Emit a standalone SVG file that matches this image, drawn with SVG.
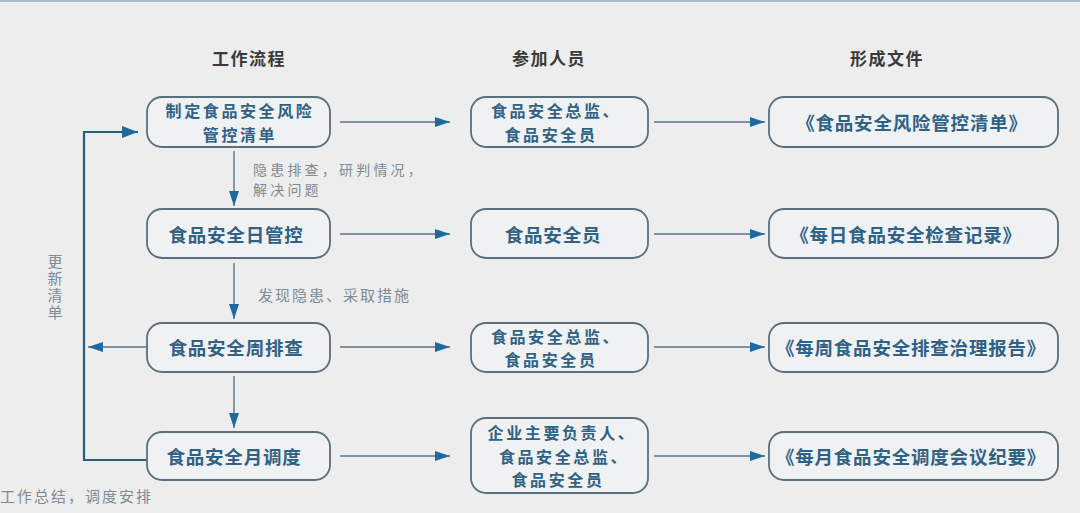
<svg xmlns="http://www.w3.org/2000/svg" width="1080" height="513" viewBox="0 0 1080 513">
<style>
.bg{fill:#ededed}
.box{fill:#eff1f2;stroke:#5a6f7c;stroke-width:1.8}
.t{font-family:"Noto Sans CJK SC","Noto Sans",sans-serif;font-size:18.5px;font-weight:bold;fill:#2f6284;text-anchor:middle;dominant-baseline:central;letter-spacing:0.8px}
.m{font-family:"Noto Sans CJK SC","Noto Sans",sans-serif;font-size:16px;font-weight:bold;fill:#2f6284;text-anchor:middle;dominant-baseline:central;letter-spacing:2.6px}
.h{font-family:"Noto Sans CJK SC","Noto Sans",sans-serif;font-size:17px;font-weight:bold;fill:#3a3a3a;text-anchor:middle;dominant-baseline:central;letter-spacing:1.5px}
.n{font-family:"Noto Sans CJK SC","Noto Sans",sans-serif;font-size:15px;fill:#7f8b93;dominant-baseline:central;letter-spacing:2px}
.ns{font-family:"Noto Sans CJK SC","Noto Sans",sans-serif;font-size:14px;fill:#7f8b93;dominant-baseline:central;letter-spacing:3.2px}
.ln{stroke:#5a7383;stroke-width:1.4;fill:none}
.fb{stroke:#2a5e78;stroke-width:2.2;fill:none}
</style>
<defs>
<marker id="ah" markerWidth="15" markerHeight="10" refX="15" refY="5" orient="auto" markerUnits="userSpaceOnUse">
<path d="M0,0 L15,5 L0,10 Z" fill="#1e6aa0"/>
</marker>
<marker id="ahb" markerWidth="16" markerHeight="12" refX="16" refY="6" orient="auto" markerUnits="userSpaceOnUse">
<path d="M0,0 L16,6 L0,12 Z" fill="#1e6aa0"/>
</marker>
</defs>
<rect class="bg" x="0" y="0" width="1080" height="513"/>
<rect x="0" y="0" width="1080" height="2" fill="#a9bdcc"/>

<g id="headers">
<text class="h" x="249" y="57">工作流程</text>
<text class="h" x="549" y="57">参加人员</text>
<text class="h" x="887" y="57">形成文件</text>
</g>

<g id="connectors">
<line class="ln" x1="340" y1="122" x2="450" y2="122" marker-end="url(#ah)"/>
<line class="ln" x1="340" y1="234" x2="450" y2="234" marker-end="url(#ah)"/>
<line class="ln" x1="340" y1="347" x2="450" y2="347" marker-end="url(#ah)"/>
<line class="ln" x1="340" y1="456" x2="450" y2="456" marker-end="url(#ah)"/>
<line class="ln" x1="654" y1="122" x2="765" y2="122" marker-end="url(#ah)"/>
<line class="ln" x1="654" y1="234" x2="765" y2="234" marker-end="url(#ah)"/>
<line class="ln" x1="654" y1="347" x2="765" y2="347" marker-end="url(#ah)"/>
<line class="ln" x1="654" y1="456" x2="765" y2="456" marker-end="url(#ah)"/>
<line class="ln" x1="234" y1="151" x2="234" y2="206" marker-end="url(#ah)"/>
<line class="ln" x1="234" y1="263" x2="234" y2="319" marker-end="url(#ah)"/>
<line class="ln" x1="234" y1="376" x2="234" y2="428" marker-end="url(#ah)"/>
<line class="ln" x1="146" y1="347" x2="88" y2="347" marker-end="url(#ah)"/>
<polyline class="fb" points="147,460 84,460 84,132 138,132" marker-end="url(#ahb)"/>
</g>

<g id="annotations">
<text class="ns"><tspan x="253" y="168.5">隐患排查，研判情况，</tspan><tspan x="253" y="189">解决问题</tspan></text>
<text class="n" x="258" y="294">发现隐患、采取措施</text>
<text class="n" x="0" y="495">工作总结，调度安排</text>
<text class="n" x="55" y="254" style="writing-mode:vertical-rl;text-orientation:upright;letter-spacing:2px;dominant-baseline:auto;text-anchor:start">更新清单</text>
</g>

<g id="n1"><rect class="box" x="147" y="97" width="183" height="50" rx="15"/>
<text class="m"><tspan x="240" y="110.3">制定食品安全风险</tspan><tspan x="240" y="133.8">管控清单</tspan></text></g>
<g id="n2"><rect class="box" x="147" y="209" width="183" height="49" rx="15"/>
<text class="t" x="236" y="234">食品安全日管控</text></g>
<g id="n3"><rect class="box" x="147" y="323" width="183" height="49" rx="15"/>
<text class="t" x="236" y="347">食品安全周排查</text></g>
<g id="n4"><rect class="box" x="147" y="432" width="183" height="48" rx="15"/>
<text class="t" x="234" y="456">食品安全月调度</text></g>

<g id="p1"><rect class="box" x="471" y="97" width="177" height="50" rx="15"/>
<text class="m"><tspan x="556" y="110.3">食品安全总监、</tspan><tspan x="551" y="133.8">食品安全员</tspan></text></g>
<g id="p2"><rect class="box" x="471" y="209" width="177" height="49" rx="15"/>
<text class="t" x="553" y="234">食品安全员</text></g>
<g id="p3"><rect class="box" x="471" y="323" width="177" height="49" rx="15"/>
<text class="m"><tspan x="556" y="335.5">食品安全总监、</tspan><tspan x="551" y="359">食品安全员</tspan></text></g>
<g id="p4"><rect class="box" x="471" y="418" width="177" height="75" rx="15"/>
<text class="m"><tspan x="562" y="432">企业主要负责人、</tspan><tspan x="564" y="455.5">食品安全总监、</tspan><tspan x="558" y="479">食品安全员</tspan></text></g>

<g id="d1"><rect class="box" x="769" y="97" width="289" height="50" rx="15"/>
<text class="t" x="912" y="122">《食品安全风险管控清单》</text></g>
<g id="d2"><rect class="box" x="769" y="209" width="289" height="49" rx="15"/>
<text class="t" x="906" y="234">《每日食品安全检查记录》</text></g>
<g id="d3"><rect class="box" x="769" y="323" width="289" height="49" rx="15"/>
<text class="t" x="911" y="347">《每周食品安全排查治理报告》</text></g>
<g id="d4"><rect class="box" x="769" y="432" width="289" height="48" rx="15"/>
<text class="t" x="911" y="456">《每月食品安全调度会议纪要》</text></g>
</svg>
